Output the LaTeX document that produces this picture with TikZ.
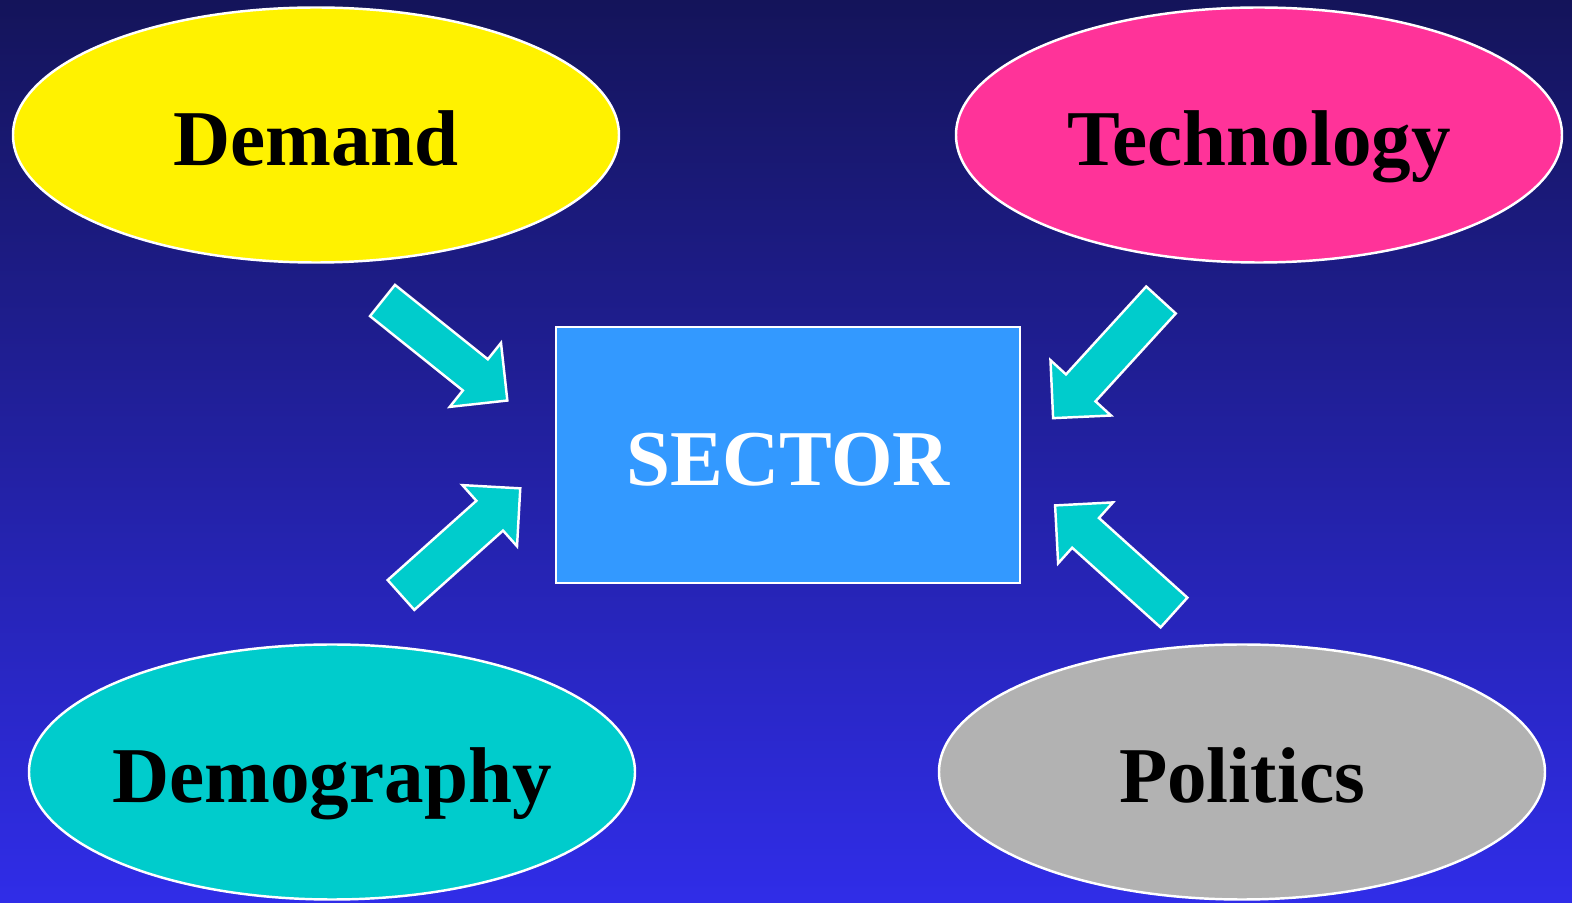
\documentclass[tikz,border=0pt]{standalone}
\usepackage{fontspec}
\setmainfont{Liberation Serif}
\usetikzlibrary{shapes.geometric}

\definecolor{bgtop}{RGB}{20,20,90}
\definecolor{bgbottom}{RGB}{48,45,232}
\definecolor{pinkfill}{RGB}{255,51,153}
\definecolor{cyanfill}{RGB}{0,204,204}
\definecolor{grayfill}{RGB}{178,178,178}
\definecolor{sectorfill}{RGB}{51,153,255}

\newcommand{\lbl}[1]{\makebox[0pt]{#1}}

\begin{document}
\begin{tikzpicture}[
    factor/.style={ellipse,draw=white,line width=0.7pt,inner sep=0pt,
      minimum width=6.06cm,minimum height=2.55cm,
      font=\fontsize{22.5}{27}\selectfont\bfseries,text height=17.6pt,text depth=0pt},
    sectorbox/.style={rectangle,draw=white,line width=0.7pt,fill=sectorfill,inner sep=0pt,
      minimum width=4.64cm,minimum height=2.56cm,text=white,
      font=\fontsize{22.5}{27}\selectfont\bfseries,text height=17.6pt,text depth=0pt},
    blockarrow/.pic={
      \draw[white,line width=0.7pt,fill=cyanfill,line join=miter]
        (0,-0.2) -- (1.19,-0.2) -- (1.19,-0.41) -- (1.6,0)
        -- (1.19,0.41) -- (1.19,0.2) -- (0,0.2) -- cycle;}
  ]
  \useasboundingbox (0,0) rectangle (15.72,9.03);
  \shade[top color=bgtop,bottom color=bgbottom] (0,0) rectangle (15.72,9.03);

  \node[factor,fill=yellow] (demand) at (3.16,7.68) {\lbl{Demand}};
  \node[factor,fill=pinkfill] (technology) at (12.59,7.68) {\lbl{Technology}};
  \node[factor,fill=cyanfill] (demography) at (3.32,1.31) {\lbl{Demography}};
  \node[factor,fill=grayfill] (politics) at (12.42,1.31) {\lbl{Politics}};

  \node[sectorbox] (sector) at (7.88,4.48) {\lbl{SECTOR}};

  % block arrows towards the sector
  \foreach \x/\y/\a in {3.825/6.025/-38.7, 11.61/6.03/-132.4, 4.01/3.08/41.8, 11.74/2.905/138}
    \pic[rotate=\a] at (\x,\y) {blockarrow};
\end{tikzpicture}
\end{document}
